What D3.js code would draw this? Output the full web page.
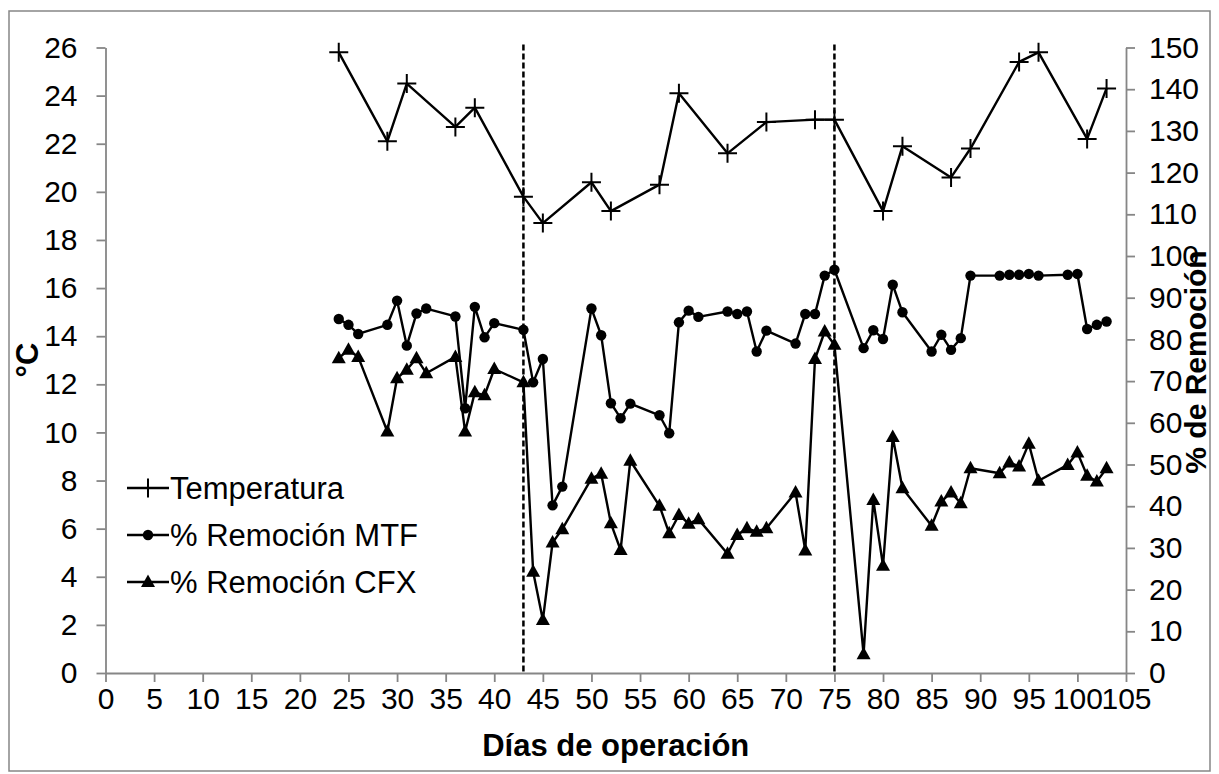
<!DOCTYPE html>
<html><head><meta charset="utf-8">
<script src="https://cdn.jsdelivr.net/npm/d3@7"></script>
<style>
html,body{margin:0;padding:0;background:#fff;}
svg text{font-family:"Liberation Sans",Arial,sans-serif;fill:#000;}
</style></head>
<body><svg id="chart" width="1219" height="774"></svg>
<script>
// ---- data ----
const daysTemp = [24,29,31,36,38,43,45,50,52,57,59,64,68,73,75,80,82,87,89,94,96,101,103];
const temperatura = [25.8,22.1,24.5,22.7,23.5,19.8,18.7,20.4,19.2,20.3,24.1,21.6,22.9,23.0,23.0,19.2,21.9,20.6,21.8,25.4,25.8,22.2,24.3];
const daysRem = [24,25,26,29,30,31,32,33,36,37,38,39,40,43,44,45,46,47,50,51,52,53,54,57,58,59,60,61,64,65,66,67,68,71,72,73,74,75,78,79,80,81,82,85,86,87,88,89,92,93,94,95,96,99,100,101,102,103];
const remMTF = [84.9,83.5,81.3,83.5,89.3,78.5,86.2,87.4,85.5,63.5,87.8,80.5,83.9,82.3,69.7,75.3,40.2,44.7,87.4,81.0,64.7,61.1,64.6,61.8,57.5,84.1,86.9,85.4,86.7,86.1,86.7,77.1,82.1,79.0,86.1,86.1,95.3,96.7,77.9,82.2,80.1,93.1,86.5,77.1,81.1,77.5,80.3,95.3,95.3,95.5,95.5,95.7,95.3,95.5,95.7,82.5,83.5,84.3];
const remCFX = [75.5,77.5,75.8,57.9,70.7,72.7,75.5,71.9,75.8,57.9,67.3,66.6,72.9,69.7,24.3,12.7,31.3,34.5,46.6,47.8,35.9,29.5,50.9,40.1,33.5,37.9,35.8,36.9,28.6,33.1,34.7,33.9,34.7,43.3,29.4,75.3,81.9,78.7,4.5,41.5,25.7,56.6,44.3,35.3,41.1,43.3,40.7,49.1,47.9,50.5,49.5,55.0,46.1,49.9,52.9,47.3,45.9,49.1];
const phaseDays = [43, 75];
const xTicks = d3.range(0, 106, 5);
const yLeftTicks = d3.range(0, 27, 2);
const yRightTicks = d3.range(0, 151, 10);
const legendLabels = ["Temperatura", "% Remoción MTF", "% Remoción CFX"];
const xTitle = "Días de operación", yLeftTitle = "°C", yRightTitle = "% de Remoción";

// ---- layout ----
const svg = d3.select("#chart");
const L = 105.5, R = 1126, T = 47.5, B = 673;
const x = d3.scaleLinear().domain([0,105]).range([L,R]);
const yT = d3.scaleLinear().domain([0,26]).range([B,T]);
const yR = d3.scaleLinear().domain([0,150]).range([B,T]);
const gray = "#868686";
const fs = 30;

svg.append("rect").attr("x",9).attr("y",11).attr("width",1201).attr("height",760)
  .attr("fill","none").attr("stroke",gray).attr("stroke-width",1.5);

function styleAxis(g){
  g.selectAll(".domain").attr("stroke",gray).attr("stroke-width",1.8);
  g.selectAll(".tick line").attr("stroke",gray).attr("stroke-width",1.8);
  g.selectAll(".tick text").attr("font-size",fs).attr("font-family","'Liberation Sans',Arial,sans-serif").attr("fill","#000");
}
const gx = svg.append("g").attr("transform",`translate(0,${B})`)
  .call(d3.axisBottom(x).tickValues(xTicks).tickSize(9).tickSizeOuter(0).tickPadding(6));
styleAxis(gx);
const gl = svg.append("g").attr("transform",`translate(${L},0)`)
  .call(d3.axisLeft(yT).tickValues(yLeftTicks).tickSize(9).tickSizeOuter(0).tickPadding(19));
styleAxis(gl);
const gr = svg.append("g").attr("transform",`translate(${R},0)`)
  .call(d3.axisRight(yR).tickValues(yRightTicks).tickSize(9).tickSizeOuter(0).tickPadding(14));
styleAxis(gr);

// titles
svg.append("text").attr("x",(L+R)/2).attr("y",756).attr("text-anchor","middle")
  .attr("font-size",31).attr("font-weight","bold").text(xTitle);
svg.append("text").attr("transform","translate(38,360) rotate(-90)").attr("text-anchor","middle")
  .attr("font-size",31).attr("font-weight","bold").text(yLeftTitle);
svg.append("text").attr("transform","translate(1206,362) rotate(-90)").attr("text-anchor","middle")
  .attr("font-size",30).attr("font-weight","bold").text(yRightTitle);

// phase lines
svg.selectAll(".phase").data(phaseDays).enter().append("line")
  .attr("x1",d=>x(d)).attr("x2",d=>x(d)).attr("y1",yR(150)-3).attr("y2",B)
  .attr("stroke","#000").attr("stroke-width",2.5).attr("stroke-dasharray","6,3");

// series
const tempData = daysTemp.map((d,i)=>({d, v:temperatura[i]}));
const mtfData = daysRem.map((d,i)=>({d, v:remMTF[i]}));
const cfxData = daysRem.map((d,i)=>({d, v:remCFX[i]}));
const lineT = d3.line().x(p=>x(p.d)).y(p=>yT(p.v));
const lineR = d3.line().x(p=>x(p.d)).y(p=>yR(p.v));
const lw = 2.4;
svg.append("path").datum(cfxData).attr("d",lineR).attr("fill","none").attr("stroke","#000").attr("stroke-width",lw).attr("stroke-linejoin","round");
svg.append("path").datum(mtfData).attr("d",lineR).attr("fill","none").attr("stroke","#000").attr("stroke-width",lw).attr("stroke-linejoin","round");
svg.append("path").datum(tempData).attr("d",lineT).attr("fill","none").attr("stroke","#000").attr("stroke-width",lw).attr("stroke-linejoin","round");

const plusPath = "M-9.5,0H9.5M0,-9.5V9.5";
const triPath = "M0,-7.5L7,5L-7,5Z";
svg.selectAll(".tp").data(tempData).enter().append("path")
  .attr("transform",p=>`translate(${x(p.d)},${yT(p.v)})`).attr("d",plusPath).attr("stroke","#000").attr("stroke-width",2);
svg.selectAll(".mp").data(mtfData).enter().append("circle")
  .attr("cx",p=>x(p.d)).attr("cy",p=>yR(p.v)).attr("r",5.2).attr("fill","#000");
svg.selectAll(".cp").data(cfxData).enter().append("path")
  .attr("transform",p=>`translate(${x(p.d)},${yR(p.v)})`).attr("d",triPath).attr("fill","#000");

// legend
const legY = [488, 535, 582];
const lg = svg.append("g");
legendLabels.forEach((lab,i)=>{
  const y = legY[i];
  lg.append("line").attr("x1",127).attr("x2",169).attr("y1",y).attr("y2",y).attr("stroke","#000").attr("stroke-width",lw);
  if(i===0) lg.append("path").attr("transform",`translate(148,${y})`).attr("d",plusPath).attr("stroke","#000").attr("stroke-width",2);
  if(i===1) lg.append("circle").attr("cx",148).attr("cy",y).attr("r",5.2).attr("fill","#000");
  if(i===2) lg.append("path").attr("transform",`translate(148,${y})`).attr("d",triPath).attr("fill","#000");
  lg.append("text").attr("x",170).attr("y",y).attr("dy","0.36em").attr("font-size",fs+1).text(lab);
});
</script></body></html>
